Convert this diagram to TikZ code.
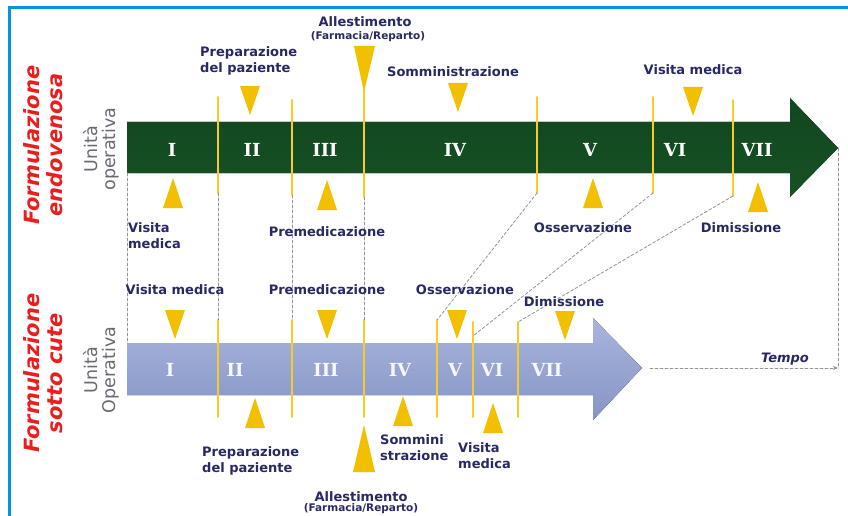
\documentclass[tikz,border=0pt]{standalone}
\usepackage{fontspec}
\setmainfont{DejaVu Sans}
\newfontfamily\numfont{DejaVu Serif}
\usetikzlibrary{positioning}
\usetikzlibrary{arrows.meta}

\begin{document}
\begin{tikzpicture}
[x = 1pt, y = -1pt, line cap = round,
step label/.style = {text = labelcolor, font = \fontsize{13}{16}\selectfont\bfseries, inner sep = 0pt},
small label/.style = {text = labelcolor, font = \fontsize{10.5}{12}\selectfont\bfseries, inner sep = 0pt},
phase/.style = {text = white, font = \fontsize{18}{20}\numfont\bfseries, inner sep = 0pt},
side title/.style = {text = titlered, font = \fontsize{21}{23}\selectfont\bfseries\itshape, align = center, rotate = 90, inner sep = 0pt},
unit label/.style = {text = unitgray, font = \fontsize{17.5}{18}\selectfont, align = center, rotate = 90, inner sep = 0pt},
marker/.style = {fill = markeryellow},
marker line/.style = {draw = lineyellow, line width = 2pt},
guide/.style = {draw = gray!85, line width = 0.8pt, dash pattern = on 3pt off 2pt}]

\definecolor{labelcolor}{RGB}{40,40,100}
\definecolor{titlered}{RGB}{235,30,30}
\definecolor{unitgray}{RGB}{105,105,115}
\definecolor{markeryellow}{RGB}{242,192,0}
\definecolor{lineyellow}{RGB}{245,205,40}
\definecolor{ivgreen}{RGB}{22,82,36}
\definecolor{scblue}{RGB}{140,156,208}
\definecolor{framecolor}{RGB}{0,150,220}

\useasboundingbox (0, 0) rectangle (848, 516);
\fill[white] (0, 0) rectangle (848, 516);
\draw[framecolor, line width = 3pt, line cap = butt] (9, 516) -- (9, 8) -- (848, 8);

% the two time arrows
\fill[top color = ivgreen!85!black, bottom color = ivgreen] (127, 122) coordinate (green nw) -- (790, 122) -- (790, 98) -- (838, 148) coordinate (green tip) -- (790, 197) -- (790, 173) -- (127, 173) coordinate (green sw) -- cycle;
\fill[top color = scblue!75!white, bottom color = scblue!95!black] (127, 343) coordinate (blue nw) -- (593, 343) -- (593, 318) -- (642, 368) coordinate (blue tip) -- (593, 420) -- (593, 395) -- (127, 395) coordinate (blue sw) -- cycle;

\node[side title] (title iv) at (43, 145) {Formulazione\\endovenosa};
\node[side title] (title sc) at (43, 373) {Formulazione\\sotto cute};
\node[unit label] (unit iv) at (101, 149) {Unità\\operativa};
\node[unit label] (unit sc) at (101, 370) {Unità\\Operativa};

% phase separators
\coordinate (top-a-1) at (218, 97);  \coordinate (top-a-2) at (218, 193);
\coordinate (top-b-1) at (292, 100); \coordinate (top-b-2) at (292, 195);
\coordinate (top-c-1) at (364, 90);  \coordinate (top-c-2) at (364, 197);
\coordinate (top-d-1) at (537, 97);  \coordinate (top-d-2) at (537, 193);
\coordinate (top-e-1) at (653, 97);  \coordinate (top-e-2) at (653, 193);
\coordinate (top-f-1) at (733, 100); \coordinate (top-f-2) at (733, 196);
\coordinate (low-a-1) at (218, 320); \coordinate (low-a-2) at (218, 417);
\coordinate (low-b-1) at (292, 320); \coordinate (low-b-2) at (292, 417);
\coordinate (low-c-1) at (364, 320); \coordinate (low-c-2) at (364, 417);
\coordinate (low-d-1) at (437, 320); \coordinate (low-d-2) at (437, 417);
\coordinate (low-e-1) at (473, 322); \coordinate (low-e-2) at (473, 417);
\coordinate (low-f-1) at (518, 322); \coordinate (low-f-2) at (518, 417);
\coordinate (low-e-mid) at (473, 336);
\foreach \n in {a, b, c, d, e, f} {
  \draw[marker line] (top-\n-1) -- (top-\n-2);
  \draw[marker line] (low-\n-1) -- (low-\n-2);
}

% guides between the two schemes
\draw[guide] (green sw) -- (blue nw);
\draw[guide] (top-a-2) -- (low-a-1);
\draw[guide] (top-b-2) -- (low-b-1);
\draw[guide] (top-c-2) -- (low-c-1);
\draw[guide] (top-d-2) -- (low-d-1);
\draw[guide] (top-e-2) -- (low-e-mid);
\draw[guide] (top-f-2) -- (low-f-1);
\coordinate (time end) at (838, 368);
\draw[guide] (green tip) -- (time end);
\draw[guide, -{Stealth[length = 5pt, width = 4pt]}, shorten <= 8pt] (blue tip) -- (time end);
\node[step label, font = \fontsize{13}{15}\selectfont\bfseries\itshape] (time) at (785, 359) {Tempo};

% markers pointing down
\foreach \x/\y in {250/86, 458/83, 693/87, 175/310, 327/310, 457/310, 565/311}
  \fill[marker] ({\x - 10}, \y) -- ({\x + 10}, \y) -- (\x, {\y + 29}) -- cycle;
% markers pointing up
\foreach \x/\y in {173/178, 327/180, 593/178, 758/182, 255/398, 403/396, 493/403}
  \fill[marker] (\x, \y) -- ({\x + 10}, {\y + 30}) -- ({\x - 10}, {\y + 30}) -- cycle;
\fill[marker] (354, 46) -- (375, 46) -- (364, 92) -- cycle;
\fill[marker] (364, 425) -- (375, 472) -- (353, 472) -- cycle;

% phases
\foreach \r/\x in {I/172, II/252, III/325, IV/455, V/590, VI/675, VII/757}
  \node[phase] (iv \r) at (\x, 150) {\r};
\foreach \r/\x in {I/170, II/235, III/326, IV/400, V/455, VI/492, VII/547}
  \node[phase, text = white!92!scblue] (sc \r) at (\x, 370) {\r};

% labels, endovenosa
\node[step label, align = left, anchor = west] (iv prep) at (200, 61) {Preparazione\\del paziente};
\node[step label] (iv prep2) at (365, 22) {Allestimento};
\node[small label] (iv farm) at (368, 37) {(Farmacia/Reparto)};
\node[step label] (iv somm) at (453, 72) {Somministrazione};
\node[step label] (iv visit2) at (693, 70) {Visita medica};
\node[step label, align = left, anchor = west] (iv visit) at (128, 236) {Visita\\medica};
\node[step label] (iv prem) at (327, 232) {Premedicazione};
\node[step label] (iv oss) at (583, 228) {Osservazione};
\node[step label] (iv dim) at (741, 228) {Dimissione};

% labels, sotto cute
\node[step label] (sc visit) at (175, 290) {Visita medica};
\node[step label] (sc prem) at (327, 290) {Premedicazione};
\node[step label] (sc oss) at (465, 290) {Osservazione};
\node[step label] (sc dim) at (564, 302) {Dimissione};
\node[step label, align = left, anchor = west] (sc prep) at (202, 461) {Preparazione\\del paziente};
\node[step label, align = left, anchor = west] (sc somm) at (380, 448) {Sommini\\strazione};
\node[step label, align = left, anchor = west] (sc visit2) at (458, 456) {Visita\\medica};
\node[step label] (sc all) at (361, 497) {Allestimento};
\node[small label] (sc farm) at (361, 509) {(Farmacia/Reparto)};
\end{tikzpicture}
\end{document}
